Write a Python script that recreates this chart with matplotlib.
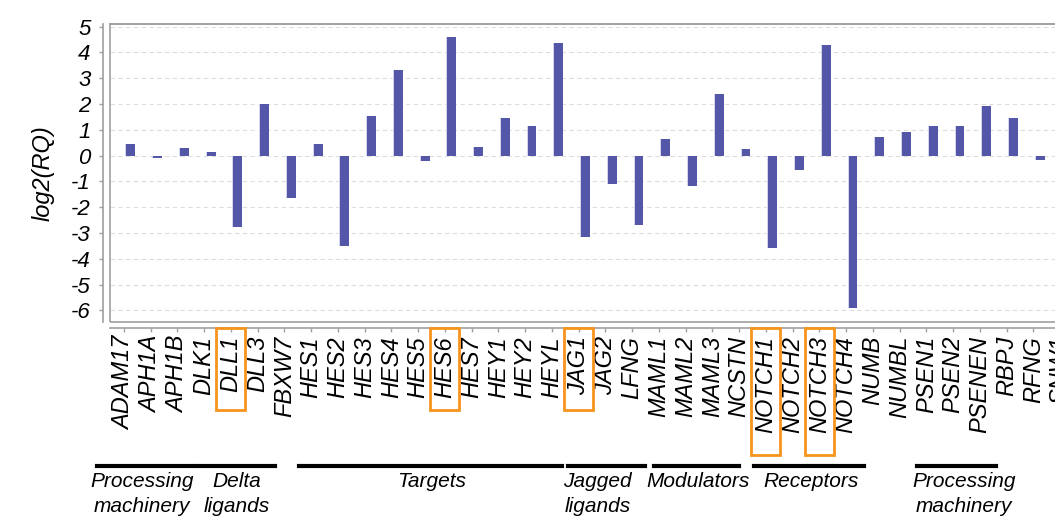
import numpy as np
import matplotlib
matplotlib.use("Agg")
import matplotlib.pyplot as plt
from matplotlib.patches import Rectangle
from matplotlib.lines import Line2D
import matplotlib.transforms as mtransforms

plt.rcParams['font.family'] = ['Liberation Sans', 'DejaVu Sans']

genes = ["ADAM17", "APH1A", "APH1B", "DLK1", "DLL1", "DLL3", "FBXW7",
         "HES1", "HES2", "HES3", "HES4", "HES5", "HES6", "HES7",
         "HEY1", "HEY2", "HEYL", "JAG1", "JAG2", "LFNG",
         "MAML1", "MAML2", "MAML3", "NCSTN",
         "NOTCH1", "NOTCH2", "NOTCH3", "NOTCH4",
         "NUMB", "NUMBL", "PSEN1", "PSEN2", "PSENEN", "RBPJ", "RFNG", "SNW1"]

log2_rq = [0.43, -0.10, 0.28, 0.12, -2.76, 1.98, -1.66,
           0.44, -3.52, 1.53, 3.32, -0.21, 4.58, 0.35,
           1.44, 1.16, 4.36, -3.14, -1.09, -2.69,
           0.66, -1.19, 2.37, 0.25,
           -3.60, -0.56, 4.29, -5.91,
           0.72, 0.91, 1.14, 1.14, 1.91, 1.46, -0.16, np.nan]

highlighted = ["DLL1", "HES6", "JAG1", "NOTCH1", "NOTCH3"]
long_box = ["NOTCH1", "NOTCH3"]

# gene-family brackets: (label, start, end, label centre)
group_labels = ["Processing\nmachinery", "Delta\nligands", "Targets",
                "Jagged\nligands", "Modulators", "Receptors",
                "Processing\nmachinery"]
group_start = [-1.0, 2.73, 6.54, 16.59, 19.81, 23.54, 29.66]
group_end = [2.58, 5.63, 16.38, 19.47, 23.0, 27.67, 32.59]
group_center = [0.68, 4.23, 11.5, 17.7, 21.47, 25.7, 31.4]

W, H = 1055, 517
fig = plt.figure(figsize=(W / 100, H / 100), dpi=100)
ax_left, ax_right, ax_top, ax_bot = 110, 1074, 24, 322
ax = fig.add_axes([ax_left / W, 1 - ax_bot / H,
                   (ax_right - ax_left) / W, (ax_bot - ax_top) / H])

x = np.arange(len(genes))
bar_color = "#5457A8"
halo_color = "#D4D5EC"
offset = 0.26
width = 0.33
vals = np.array(log2_rq, dtype=float)
ax.bar(x + offset - 0.04, vals, width=width, color=halo_color, zorder=2,
       linewidth=0)
ax.bar(x + offset, vals, width=width, color=bar_color, zorder=3, linewidth=0)

ax.set_xlim(-0.52, len(genes) - 0.48)
ax.set_ylim(-6.45, 5.1)

frame_color = "#A0A0A0"
for side in ["top", "right"]:
    ax.spines[side].set_color(frame_color)
    ax.spines[side].set_linewidth(1.2)
ax.spines['left'].set_position(('outward', 5))
ax.spines['bottom'].set_position(('outward', 4))
for side in ["left", "bottom"]:
    ax.spines[side].set_color(frame_color)
    ax.spines[side].set_linewidth(1.2)
ax.add_patch(Rectangle((0, 0), 1, 1, transform=ax.transAxes, fill=False,
                       edgecolor=frame_color, linewidth=1.2, clip_on=False,
                       zorder=5))
ax.tick_params(axis='both', colors=frame_color, labelcolor='black',
               length=3, width=1)
ax.tick_params(axis='x', pad=3)
ax.tick_params(axis='y', pad=6)

ax.set_yticks(range(-6, 6))
ax.set_yticklabels([str(v) for v in range(-6, 6)])
ax.set_xticks(x)
ax.set_xticklabels(genes)
for lab in ax.get_yticklabels():
    lab.set_fontsize(16)
    lab.set_fontstyle('italic')
for lab in ax.get_xticklabels():
    lab.set_fontsize(17)
    lab.set_fontstyle('italic')
    lab.set_rotation(90)
ax.set_ylabel("log2(RQ)", fontsize=17, style='italic', labelpad=12)

ax.grid(axis='y', color='#DDDDDD', linestyle=(0, (4, 3)), linewidth=0.8,
        zorder=0)
ax.set_axisbelow(True)

# orange boxes around highlighted gene labels
def fy(px):
    return 1 - px / H

trans = mtransforms.blended_transform_factory(ax.transData, fig.transFigure)
for g in highlighted:
    i = genes.index(g)
    bottom_px = 455 if g in long_box else 410
    fig.add_artist(Rectangle((i - 0.54, fy(bottom_px)), 1.08,
                             (bottom_px - 328) / H, transform=trans,
                             fill=False, edgecolor="#F7941D", linewidth=2,
                             clip_on=False))

# family brackets and names
for label, s, e, c in zip(group_labels, group_start, group_end, group_center):
    fig.add_artist(Line2D([s, e], [fy(466), fy(466)], transform=trans,
                          color='black', linewidth=3))
    fig.text(c, fy(472), label, transform=trans, ha='center', va='top',
             fontsize=15, style='italic', linespacing=1.4)

fig.savefig("out.png", dpi=100)
